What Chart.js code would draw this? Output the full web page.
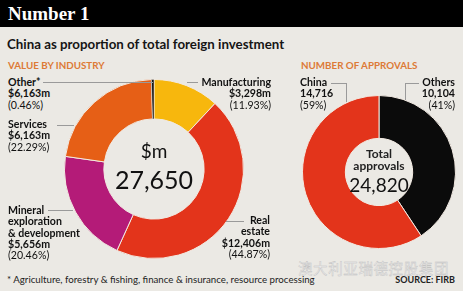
<!DOCTYPE html>
<html>
<head>
<meta charset="utf-8">
<script src="https://cdn.jsdelivr.net/npm/chart.js@4.4.1/dist/chart.umd.min.js"></script>
<style>
  html, body { margin:0; padding:0; }
  body { width:463px; height:291px; background:#ebe9e4; position:relative; overflow:hidden; font-family:Lato, "Open Sans", sans-serif; color:#111; }
  .abs { position:absolute; white-space:nowrap; }
  #bar { left:0; top:0; width:463px; height:27px; background:#000; }
  #title { left:8px; top:2px; font-family:"Liberation Serif", serif; font-weight:bold; font-size:19px; color:#fff; line-height:24px; }
  #subtitle { left:7px; top:35px; font-size:13.3px; font-weight:bold; line-height:18px; color:#151515; }
  .head { font-size:9.8px; font-weight:bold; color:#dd7a36; line-height:12px; }
  .lab { font-size:10.6px; line-height:11.3px; }
  .lab b { font-weight:bold; }
  .r { text-align:right; }
  .line { position:absolute; background:#9a9a9a; }
  .center { text-align:center; }
  #foot { left:7px; top:273px; font-size:9.7px; line-height:12px; color:#222; }
  #src { right:8px; top:274px; font-size:9px; font-weight:bold; line-height:11px; color:#222; }
  #wm { left:298px; top:258px; font-family:"Noto Sans CJK SC", sans-serif; font-size:14.5px; line-height:20px; color:#ebebeb; -webkit-text-stroke:0.35px #bdbdbd; letter-spacing:0.6px; }
  canvas { position:absolute; }
</style>
</head>
<body>
<div id="bar" class="abs"></div>
<div id="title" class="abs">Number 1</div>
<div id="subtitle" class="abs">China as proportion of total foreign investment</div>
<div class="abs head" style="left:8px;top:59px;">VALUE BY INDUSTRY</div>
<div class="abs head" style="left:301px;top:59px;">NUMBER OF APPROVALS</div>

<canvas id="c1" width="180" height="180" style="left:64px;top:79px;"></canvas>
<canvas id="c2" width="154" height="154" style="left:302px;top:95px;"></canvas>

<div id="labels"></div>

<div class="abs center" style="left:104px;width:100px;top:140px;font-size:19px;line-height:22px;">$m</div>
<div class="abs center" style="left:104px;width:100px;top:164px;font-size:25px;line-height:30px;">27,650</div>

<div class="abs center" style="left:339px;width:80px;top:148px;font-size:12px;font-weight:bold;line-height:12px;color:#222;">Total<br>approvals</div>
<div class="abs center" style="left:339px;width:80px;top:174px;font-size:19px;line-height:22px;">24,820</div>

<div id="foot" class="abs">* Agriculture, forestry &amp; fishing, finance &amp; insurance, resource processing</div>
<div id="src" class="abs">SOURCE: FIRB</div>
<div id="wm" class="abs">澳大利亚瑞德控股集团</div>

<script>
// ---- data ----
const industryLabels = ['Manufacturing', 'Real estate', 'Mineral exploration & development', 'Services', 'Other*'];
const industryShares = [11.93, 44.87, 20.46, 22.29, 0.46];
const industryAmounts = ['$3,298m', '$12,406m', '$5,656m', '$6,163m', '$6,163m'];
const industryTotal = '27,650';
const industryColors = ['#f7b70d', '#e3341b', '#b41b78', '#e65f16', '#111111'];

const approvalLabels = ['Others', 'China'];
const approvalValues = [10104, 14716];
const approvalShares = ['41%', '59%'];
const approvalTotal = '24,820';
const approvalColors = ['#0b0b0b', '#e3341b'];

function donut(id, labels, values, colors, cutout, borders) {
  return new Chart(document.getElementById(id), {
    type: 'doughnut',
    data: { labels: labels, datasets: [{ data: values, backgroundColor: colors,
      borderColor: '#f1e9e1', borderWidth: borders }] },
    options: {
      responsive: false, animation: false, cutout: cutout,
      layout: { padding: 0 },
      plugins: { legend: { display: false }, tooltip: { enabled: false } }
    }
  });
}
donut('c1', industryLabels, industryShares, industryColors, '56%', [1,1,1,1,0.5]);
donut('c2', approvalLabels, approvalValues, approvalColors, '44%', [1,1]);

// ---- labels (text from data arrays) ----
const L = document.getElementById('labels');
function label(x, y, lines, right) {
  const d = document.createElement('div');
  d.className = 'abs lab' + (right ? ' r' : '');
  if (right) { d.style.right = (463 - x) + 'px'; } else { d.style.left = x + 'px'; }
  d.style.top = y + 'px';
  d.innerHTML = lines.join('<br>');
  L.appendChild(d);
}
function line(x, y, w, h) {
  const d = document.createElement('div');
  d.className = 'line';
  d.style.left = x + 'px'; d.style.top = y + 'px';
  d.style.width = w + 'px'; d.style.height = h + 'px';
  L.appendChild(d);
}
const pct = v => '(' + v.toFixed(2) + '%)';
label(8, 77, ['<b>Other*</b>', '<b>' + industryAmounts[4] + '</b>', pct(industryShares[4])]);
label(8, 119, ['<b>Services</b>', '<b>' + industryAmounts[3] + '</b>', pct(industryShares[3])]);
label(8, 205, ['<b>Mineral</b>', '<b>exploration</b>', '<b>&amp; development</b>', '<b>' + industryAmounts[2] + '</b>', pct(industryShares[2])]);
label(271, 77, ['<b>' + industryLabels[0] + '</b>', '<b>' + industryAmounts[0] + '</b>', pct(industryShares[0])], true);
label(270, 215, ['<b>Real</b>', '<b>estate</b>', '<b>' + industryAmounts[1] + '</b>', pct(industryShares[1])], true);
label(300, 77, ['<b>' + approvalLabels[1] + '</b>', '<b>' + approvalValues[1].toLocaleString('en-US') + '</b>', '(' + approvalShares[1] + ')']);
label(455, 77, ['<b>' + approvalLabels[0] + '</b>', '<b>' + approvalValues[0].toLocaleString('en-US') + '</b>', '(' + approvalShares[0] + ')'], true);

line(43, 82, 110, 1);
line(57, 125, 17, 1);
line(48, 210, 25, 1);
line(187, 82, 11, 1);
line(226, 221, 18, 1);
line(331, 83, 15, 1); line(346, 83, 1, 19);
line(405, 83, 14, 1); line(405, 83, 1, 17);
</script>
</body>
</html>
